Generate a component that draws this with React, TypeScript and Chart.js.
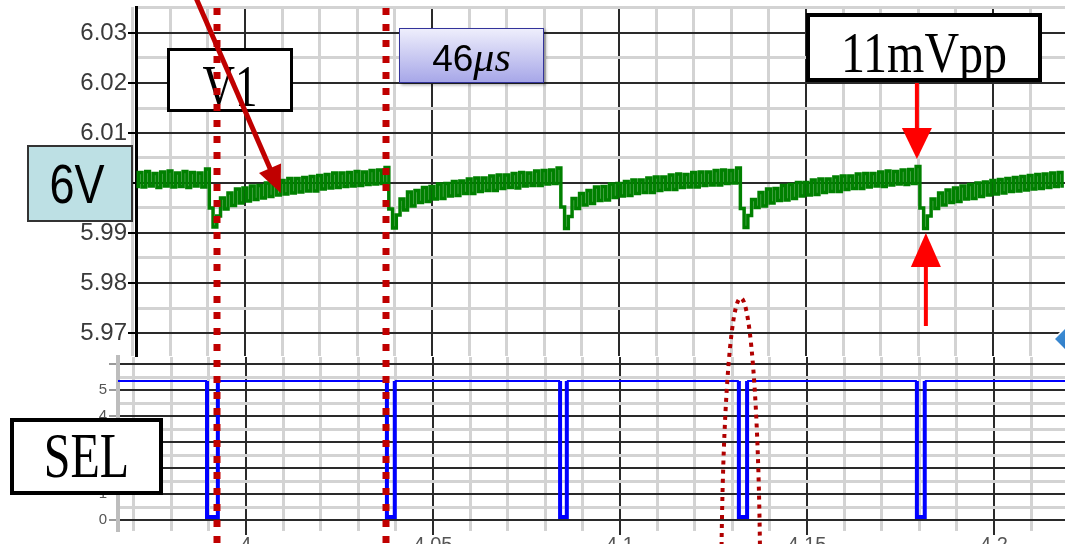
import React, { useEffect, useRef } from 'react';
import { Chart, registerables } from 'chart.js';

Chart.register(...registerables);

// ---------- V1 trace (top scope), sampled every 1 µs-step of the time axis ----------
const T_START = 3.971;
const T_STEP = 0.001;

const V1_SEG_0 = [5.9993, 6.0021, 5.9992, 6.0023, 5.9994, 6.0019, 5.9991, 6.0022, 5.9994, 6.0024, 5.9992, 6.0020, 5.9993, 6.0023, 5.9991, 6.0021, 5.9994, 6.0020, 5.9992, 6.0028];
const V1_CYCLE_1 = [5.9950, 5.9912, 5.9934, 5.9970, 5.9948, 5.9980, 5.9955, 5.9988, 5.9960, 5.9990, 5.9964, 5.9994, 5.9967, 5.9995, 5.9970, 6.0000, 5.9973, 6.0002, 5.9976, 6.0005, 5.9978, 6.0009, 5.9980, 6.0009, 5.9982, 6.0011, 5.9984, 6.0013, 5.9984, 6.0015, 5.9988, 6.0017, 5.9990, 6.0020, 5.9991, 6.0020, 5.9993, 6.0021, 5.9994, 6.0023, 5.9995, 6.0022, 5.9997, 6.0025, 5.9998, 6.0026, 5.9999, 6.0031];
const V1_CYCLE_2 = [5.9948, 5.9910, 5.9936, 5.9968, 5.9946, 5.9982, 5.9954, 5.9985, 5.9961, 5.9991, 5.9963, 5.9993, 5.9968, 5.9998, 5.9969, 5.9999, 5.9974, 6.0003, 5.9975, 6.0004, 5.9979, 6.0008, 5.9979, 6.0010, 5.9983, 6.0010, 5.9985, 6.0014, 5.9985, 6.0016, 5.9989, 6.0016, 5.9991, 6.0019, 5.9990, 6.0021, 5.9994, 6.0020, 5.9995, 6.0024, 5.9995, 6.0025, 5.9998, 6.0026, 5.9999, 6.0030];
const V1_CYCLE_3 = [5.9952, 5.9909, 5.9933, 5.9969, 5.9949, 5.9979, 5.9956, 5.9985, 5.9959, 5.9992, 5.9965, 5.9993, 5.9966, 5.9998, 5.9971, 5.9999, 5.9974, 6.0003, 5.9975, 6.0006, 5.9979, 6.0006, 5.9981, 6.0010, 5.9981, 6.0012, 5.9985, 6.0012, 5.9987, 6.0016, 5.9987, 6.0018, 5.9991, 6.0017, 5.9992, 6.0021, 5.9992, 6.0022, 5.9995, 6.0022, 5.9996, 6.0025, 5.9996, 6.0026, 5.9999, 6.0025, 6.0000, 6.0030];
const V1_CYCLE_4 = [5.9949, 5.9911, 5.9935, 5.9967, 5.9951, 5.9981, 5.9954, 5.9988, 5.9960, 5.9989, 5.9965, 5.9995, 5.9966, 5.9997, 5.9969, 6.0001, 5.9974, 6.0001, 5.9976, 6.0006, 5.9977, 6.0008, 5.9981, 6.0008, 5.9983, 6.0012, 5.9983, 6.0014, 5.9987, 6.0014, 5.9989, 6.0018, 5.9989, 6.0019, 5.9992, 6.0019, 5.9994, 6.0022, 5.9993, 6.0024, 5.9996, 6.0023, 5.9998, 6.0026, 5.9997, 6.0027, 5.9999, 6.0033];
const V1_CYCLE_5 = [5.9950, 5.9909, 5.9934, 5.9968, 5.9949, 5.9980, 5.9956, 5.9986, 5.9961, 5.9990, 5.9963, 5.9994, 5.9968, 5.9997, 5.9969, 6.0000, 5.9973, 6.0002, 5.9976, 6.0005, 5.9978, 6.0007, 5.9980, 6.0009, 5.9983, 6.0011, 5.9984, 6.0013, 5.9986, 6.0015, 5.9988, 6.0017, 5.9989, 6.0018, 5.9991, 6.0020, 5.9993, 6.0021, 5.9994];
const V1_VALUES = [...V1_SEG_0, ...V1_CYCLE_1, ...V1_CYCLE_2, ...V1_CYCLE_3, ...V1_CYCLE_4, ...V1_CYCLE_5];

// ---------- SEL trace (bottom scope) ----------
const SEL_TIMES = [3.9655, 3.9896, 3.9896, 3.9925, 3.9925, 4.0377, 4.0377, 4.0398, 4.0398, 4.0840, 4.0840, 4.0858, 4.0858, 4.1318, 4.1318, 4.1340, 4.1340, 4.1794, 4.1794, 4.1815, 4.1815, 4.2195];
const SEL_VALUES = [5.35, 5.35, 0.12, 0.12, 5.35, 5.35, 0.12, 0.12, 5.35, 5.35, 0.12, 0.12, 5.35, 5.35, 0.12, 0.12, 5.35, 5.35, 0.12, 0.12, 5.35, 5.35];

// ---------- axes ----------
const X_GRID = [3.97, 3.98, 3.99, 4.0, 4.01, 4.02, 4.03, 4.04, 4.05, 4.06, 4.07, 4.08, 4.09, 4.1, 4.11, 4.12, 4.13, 4.14, 4.15, 4.16, 4.17, 4.18, 4.19, 4.2, 4.21];
const X_MAJOR = [4.0, 4.05, 4.1, 4.15, 4.2];
const X_LABELS = ['4', '4.05', '4.1', '4.15', '4.2'];

const V1_TICKS = [5.97, 5.975, 5.98, 5.985, 5.99, 5.995, 6.0, 6.005, 6.01, 6.015, 6.02, 6.025, 6.03, 6.035];
const V1_MAJOR = [5.97, 5.98, 5.99, 6.0, 6.01, 6.02, 6.03];
const V1_LABELS = ['5.97', '5.98', '5.99', '6.00', '6.01', '6.02', '6.03'];

const SEL_TICKS = [0, 0.5, 1, 1.5, 2, 2.5, 3, 3.5, 4, 4.5, 5, 5.5, 6];
const SEL_MAJOR = [0, 1, 2, 3, 4, 5, 6];
const SEL_LABELS = ['0', '1', '2', '3', '4', '5', ''];

// annotation anchors (time, volts)
const MARKER_TIMES = [3.9925, 4.0377];
const V1_ARROW_TIP = { t: 4.0096, v: 5.998 };
const PP_TOP = { t: 4.1797, v: 6.0048 };
const PP_BOTTOM = { t: 4.1821, v: 5.99 };
const ELLIPSE_T = 4.1326;

const W = 1065;
const H = 544;
const MAJOR_COLOR = '#2a2a2a';
const MINOR_COLOR = '#d3d3d3';

const idxOf = (arr: number[], v: number) => arr.findIndex((m) => Math.abs(m - v) < 1e-7);
const isMaj = (arr: number[], c: any) => !!(c && c.tick && idxOf(arr, c.tick.value) >= 0);

function gridFor(major: number[], tickLength: number, tickMajorColor: string) {
  return {
    color: (c: any) => (isMaj(major, c) ? MAJOR_COLOR : MINOR_COLOR),
    lineWidth: (c: any) => (isMaj(major, c) ? 2 : 3),
    drawTicks: tickLength > 0,
    tickLength,
    tickWidth: 2,
    tickColor: (c: any) => (isMaj(major, c) ? tickMajorColor : 'rgba(0,0,0,0)'),
  };
}

function topConfig(): any {
  return {
    type: 'line',
    data: {
      datasets: [
        {
          data: V1_VALUES.map((v, i) => ({ x: T_START + i * T_STEP, y: v })),
          borderColor: '#008000',
          borderWidth: 3.5,
          pointRadius: 0,
          stepped: 'middle',
        },
      ],
    },
    options: {
      responsive: false,
      animation: false,
      events: [],
      layout: { padding: { top: 7, left: 0, right: 0, bottom: 0 }, autoPadding: false },
      plugins: { legend: { display: false }, tooltip: { enabled: false } },
      scales: {
        x: {
          type: 'linear',
          min: 3.9709,
          max: 4.2193,
          afterBuildTicks: (s: any) => { s.ticks = X_GRID.map((v) => ({ value: v })); },
          afterFit: (s: any) => { s.height = 1; s.paddingLeft = 0; s.paddingRight = 0; },
          ticks: { display: false, autoSkip: false },
          grid: gridFor(X_MAJOR, 0, MAJOR_COLOR),
          border: { display: false },
        },
        y: {
          type: 'linear',
          min: 5.9654,
          max: 6.0352,
          afterBuildTicks: (s: any) => { s.ticks = V1_TICKS.map((v) => ({ value: v })); },
          afterFit: (s: any) => { s.width = 136; s.paddingTop = 0; s.paddingBottom = 0; },
          ticks: {
            autoSkip: false,
            padding: 1,
            color: '#3a3a3a',
            font: { size: 24, family: '"Liberation Sans", Arial, sans-serif' },
            callback: (v: number) => { const i = idxOf(V1_MAJOR, v); return i >= 0 ? V1_LABELS[i] : ''; },
          },
          grid: gridFor(V1_MAJOR, 8, '#000'),
          border: { display: true, color: '#000', width: 3 },
        },
      },
    },
  };
}

function bottomConfig(): any {
  return {
    type: 'line',
    data: {
      datasets: [
        {
          data: SEL_TIMES.map((t, i) => ({ x: t, y: SEL_VALUES[i] })),
          borderColor: '#0000ff',
          borderWidth: 4,
          pointRadius: 0,
          tension: 0,
          segment: {
            borderWidth: (c: any) => (c.p0.parsed.y > 3 && c.p1.parsed.y > 3 ? 2 : 4),
          },
        },
      ],
    },
    options: {
      responsive: false,
      animation: false,
      events: [],
      layout: { padding: { top: 7, left: 0, right: 0, bottom: 0 }, autoPadding: false },
      plugins: { legend: { display: false }, tooltip: { enabled: false } },
      scales: {
        x: {
          type: 'linear',
          min: 3.9658,
          max: 4.219,
          afterBuildTicks: (s: any) => { s.ticks = X_GRID.map((v) => ({ value: v })); },
          afterFit: (s: any) => { s.height = 13; s.paddingLeft = 0; s.paddingRight = 0; },
          ticks: {
            autoSkip: false,
            maxRotation: 0,
            minRotation: 0,
            padding: -2,
            color: '#555',
            font: { size: 20, family: '"Liberation Sans", Arial, sans-serif' },
            callback: (v: number) => { const i = idxOf(X_MAJOR, v); return i >= 0 ? X_LABELS[i] : ''; },
          },
          grid: gridFor(X_MAJOR, 4, MAJOR_COLOR),
          border: { display: false },
        },
        y: {
          type: 'linear',
          min: -0.42,
          max: 6.27,
          afterBuildTicks: (s: any) => { s.ticks = SEL_TICKS.map((v) => ({ value: v })); },
          afterFit: (s: any) => { s.width = 118; s.paddingTop = 0; s.paddingBottom = 0; },
          ticks: {
            autoSkip: false,
            padding: 2,
            color: '#555',
            font: { size: 15, family: '"Liberation Sans", Arial, sans-serif' },
            callback: (v: number) => { const i = idxOf(SEL_MAJOR, v); return i >= 0 ? SEL_LABELS[i] : ''; },
          },
          grid: gridFor(SEL_MAJOR, 9, '#999'),
          border: { display: true, color: '#bdbdbd', width: 4 },
        },
      },
    },
  };
}

function arrow(ctx: CanvasRenderingContext2D, x0: number, y0: number, x1: number, y1: number, color: string, lw: number, headLen: number, headW: number) {
  const ang = Math.atan2(y1 - y0, x1 - x0);
  const bx = x1 - headLen * Math.cos(ang);
  const by = y1 - headLen * Math.sin(ang);
  ctx.save();
  ctx.strokeStyle = color;
  ctx.lineWidth = lw;
  ctx.lineCap = 'butt';
  ctx.beginPath();
  ctx.moveTo(x0, y0);
  ctx.lineTo(bx + Math.cos(ang), by + Math.sin(ang));
  ctx.stroke();
  ctx.fillStyle = color;
  ctx.beginPath();
  ctx.moveTo(x1, y1);
  ctx.lineTo(bx + (headW / 2) * Math.sin(ang), by - (headW / 2) * Math.cos(ang));
  ctx.lineTo(bx - (headW / 2) * Math.sin(ang), by + (headW / 2) * Math.cos(ang));
  ctx.closePath();
  ctx.fill();
  ctx.restore();
}

function drawOverlay(ctx: CanvasRenderingContext2D, top: any) {
  const xs = top.scales.x;
  const ys = top.scales.y;
  ctx.clearRect(0, 0, W, H);

  // dotted red cursors
  ctx.save();
  ctx.strokeStyle = '#c00000';
  ctx.lineWidth = 7;
  ctx.setLineDash([7, 9]);
  ctx.lineDashOffset = 8;
  for (const t of MARKER_TIMES) {
    const x = Math.round(xs.getPixelForValue(t));
    ctx.beginPath();
    ctx.moveTo(x, 0);
    ctx.lineTo(x, H);
    ctx.stroke();
  }
  ctx.restore();

  // dark red arrow to V1 trace
  const tx = xs.getPixelForValue(V1_ARROW_TIP.t);
  const ty = ys.getPixelForValue(V1_ARROW_TIP.v);
  arrow(ctx, tx - 86, ty - 198, tx, ty, '#c00000', 5, 27, 24);

  // 11mVpp arrows
  const ax = xs.getPixelForValue(PP_TOP.t);
  const ay = ys.getPixelForValue(PP_TOP.v);
  arrow(ctx, ax, ay - 76, ax, ay, '#ff0000', 4, 31, 30);
  const bx = xs.getPixelForValue(PP_BOTTOM.t);
  const by = ys.getPixelForValue(PP_BOTTOM.v);
  arrow(ctx, bx, by + 93, bx, by, '#ff0000', 4, 34, 30);

  // dotted ellipse around the close SEL pulse
  const ex = xs.getPixelForValue(ELLIPSE_T);
  ctx.save();
  ctx.strokeStyle = '#b00000';
  ctx.lineWidth = 4;
  ctx.setLineDash([4, 5]);
  ctx.beginPath();
  ctx.ellipse(ex, 600, 19.5, 302, 0, Math.PI, 2 * Math.PI);
  ctx.stroke();
  ctx.restore();

  // blue diamond at right edge
  ctx.save();
  const g = ctx.createLinearGradient(1054, 318, 1094, 358);
  g.addColorStop(0, '#4a9be0');
  g.addColorStop(1, '#1660b0');
  ctx.fillStyle = g;
  ctx.strokeStyle = '#ffffff';
  ctx.lineWidth = 1.5;
  ctx.beginPath();
  ctx.moveTo(1054, 339);
  ctx.lineTo(1075, 318);
  ctx.lineTo(1096, 339);
  ctx.lineTo(1075, 360);
  ctx.closePath();
  ctx.fill();
  ctx.stroke();
  ctx.restore();
}

const boxBase: React.CSSProperties = {
  position: 'absolute',
  boxSizing: 'border-box',
  display: 'flex',
  alignItems: 'center',
  justifyContent: 'center',
  background: '#fff',
  color: '#000',
  overflow: 'hidden',
};

const serif = '"Liberation Serif", "Times New Roman", serif';
const sans = '"Liberation Sans", Arial, sans-serif';

export default function App() {
  const topRef = useRef<HTMLCanvasElement>(null);
  const botRef = useRef<HTMLCanvasElement>(null);
  const ovRef = useRef<HTMLCanvasElement>(null);

  useEffect(() => {
    const top = new Chart(topRef.current as HTMLCanvasElement, topConfig());
    const bot = new Chart(botRef.current as HTMLCanvasElement, bottomConfig());
    const ctx = (ovRef.current as HTMLCanvasElement).getContext('2d');
    if (ctx) drawOverlay(ctx, top);
    return () => {
      top.destroy();
      bot.destroy();
    };
  }, []);

  return (
    <div style={{ position: 'absolute', left: 0, top: 0, width: W, height: H, overflow: 'hidden', background: '#fff' }}>
      <canvas ref={topRef} width={W} height={357} style={{ position: 'absolute', left: 0, top: 0, width: W, height: 357 }} />
      <canvas ref={botRef} width={W} height={194} style={{ position: 'absolute', left: 0, top: 350, width: W, height: 194 }} />

      <div style={{ ...boxBase, left: 167, top: 48, width: 126, height: 64, border: '3px solid #000' }}>
        <span style={{ fontFamily: serif, fontSize: 45, lineHeight: 1, display: 'inline-block', transform: 'scaleY(1.3)', position: 'relative', top: 7 }}>V1</span>
      </div>

      <div
        style={{
          ...boxBase,
          left: 399,
          top: 28,
          width: 145,
          height: 55,
          border: '1.5px solid #33339a',
          background: 'linear-gradient(#eeeefc, #a7a7e8)',
          boxShadow: '2px 2px 3px rgba(0,0,0,0.35)',
        }}
      >
        <span style={{ position: 'relative', top: 1, lineHeight: 1, whiteSpace: 'nowrap' }}>
          <span style={{ fontFamily: sans, fontSize: 37 }}>46</span>
          <span style={{ fontFamily: serif, fontStyle: 'italic', fontSize: 42 }}>μs</span>
        </span>
      </div>

      <div style={{ ...boxBase, left: 806, top: 13, width: 236, height: 69, border: '4px solid #000' }}>
        <span style={{ fontFamily: serif, fontSize: 48, lineHeight: 1, display: 'inline-block', transform: 'scaleY(1.2)', position: 'relative', top: 5 }}>11mVpp</span>
      </div>

      <div style={{ ...boxBase, left: 27, top: 145, width: 106, height: 77, border: '2px solid #333', background: '#bde0e4' }}>
        <span style={{ fontFamily: sans, fontSize: 45, lineHeight: 1, display: 'inline-block', transform: 'scaleY(1.25)', position: 'relative', left: -3 }}>6V</span>
      </div>

      <div style={{ ...boxBase, left: 10, top: 418, width: 153, height: 77, border: '4px solid #000' }}>
        <span style={{ fontFamily: serif, fontSize: 48, lineHeight: 1, display: 'inline-block', transform: 'scaleY(1.33)', position: 'relative', top: -1 }}>SEL</span>
      </div>

      <canvas ref={ovRef} width={W} height={H} style={{ position: 'absolute', left: 0, top: 0, width: W, height: H, pointerEvents: 'none' }} />
    </div>
  );
}
